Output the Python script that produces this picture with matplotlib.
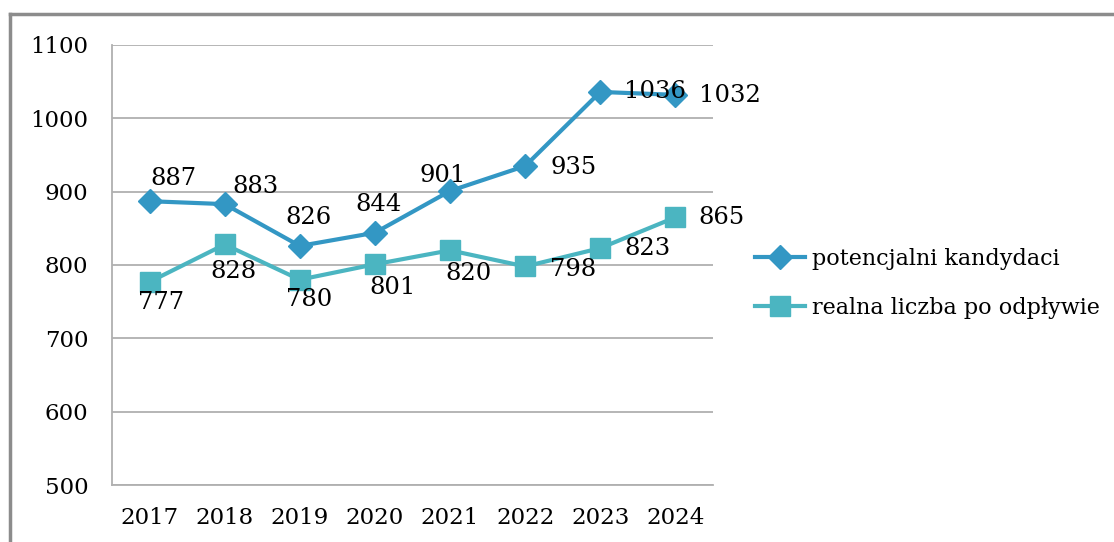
import matplotlib
matplotlib.use("Agg")
import matplotlib.pyplot as plt
from matplotlib.lines import Line2D

# dane z wykresu
lata = ["2017", "2018", "2019", "2020", "2021", "2022", "2023", "2024"]
potencjalni = [887, 883, 826, 844, 901, 935, 1036, 1032]
realna = [777, 828, 780, 801, 820, 798, 823, 865]

# przesuniecia etykiet (piksele)
off_pot = [(24, 23), (31, 18), (9, 28), (4, 28), (-7, 15), (48, -2), (55, 0), (54, -1)]
off_real = [(11, -21), (9, -27), (9, -20), (18, -23), (18, -23), (48, -3), (47, 0), (46, 0)]

c_pot = "#3397c4"
c_real = "#4bb5c1"

plt.rcParams["font.family"] = ["DejaVu Serif"]

fig = plt.figure(figsize=(11.14, 5.42), dpi=100)
ax = fig.add_axes([112 / 1114, 57 / 542, 601 / 1114, 440 / 542])

x = range(len(lata))
ax.plot(x, potencjalni, color=c_pot, lw=3, marker="D", ms=12, label="potencjalni kandydaci")
ax.plot(x, realna, color=c_real, lw=3, marker="s", ms=14, label="realna liczba po odpływie")

for i, v in enumerate(potencjalni):
    ax.annotate(str(v), (i, v), xytext=off_pot[i], textcoords="offset pixels",
                ha="center", va="center", fontsize=17.5, color="black")
for i, v in enumerate(realna):
    ax.annotate(str(v), (i, v), xytext=off_real[i], textcoords="offset pixels",
                ha="center", va="center", fontsize=17.5, color="black")

ax.set_xlim(-0.5, len(lata) - 0.5)
ax.set_ylim(500, 1100)
ax.set_yticks(range(500, 1101, 100))
ax.set_xticks(list(x))
ax.set_xticklabels(lata)
ax.tick_params(length=0, labelsize=16.5, colors="black")
ax.tick_params(axis="y", pad=17)
ax.tick_params(axis="x", pad=16)
ax.grid(axis="y", color="#b0b0b0", lw=1.3)
ax.set_axisbelow(True)
for s in ["top", "right"]:
    ax.spines[s].set_visible(False)
ax.spines["left"].set_color("#b0b0b0")
ax.spines["bottom"].set_color("#b0b0b0")
ax.spines["left"].set_linewidth(1.3)
ax.spines["bottom"].set_linewidth(1.3)

leg = ax.legend(loc="center left", bbox_to_anchor=(1.07, 0.458), frameon=False,
                fontsize=16, handlelength=2.25, handletextpad=0.3, labelspacing=1.2,
                borderaxespad=0, borderpad=0)

# ramka obrazka
fig.add_artist(Line2D([10 / 1114, 1], [1 - 14 / 542] * 2, color="#8c8c8c", lw=2.5,
                      transform=fig.transFigure))
fig.add_artist(Line2D([10 / 1114] * 2, [0, 1 - 14 / 542], color="#8c8c8c", lw=2.5,
                      transform=fig.transFigure))

fig.savefig("out.png", dpi=100)
